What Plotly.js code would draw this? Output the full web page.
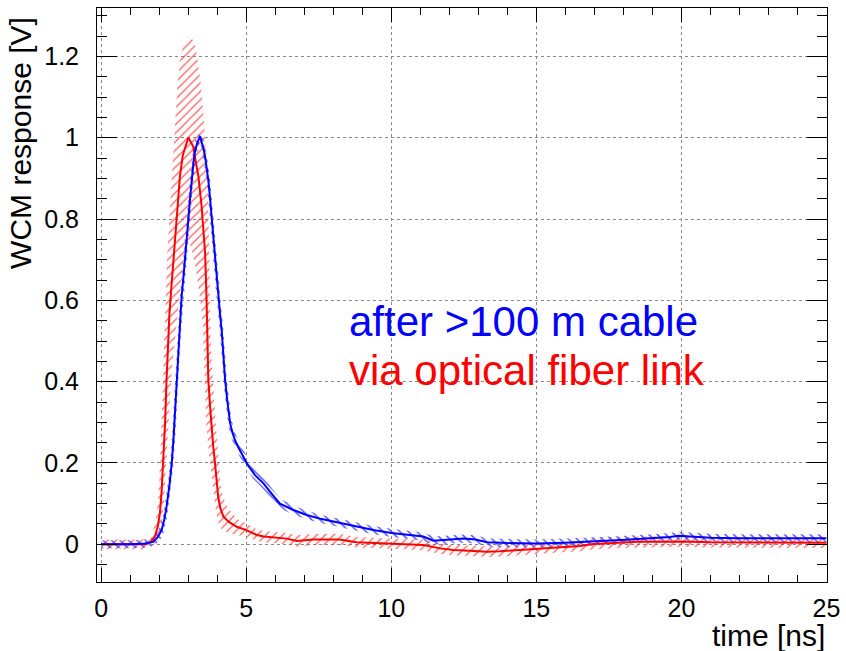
<!DOCTYPE html>
<html>
<head>
<meta charset="utf-8">
<script src="https://cdn.plot.ly/plotly-3.0.1.min.js"></script>
<style>html,body{margin:0;padding:0;background:#fff;}#chart{width:846px;height:651px;}</style>
</head>
<body>
<div id="chart"></div>
<script>
// ---- data ----
const redTime = [0, 0.5, 1.0, 1.5, 1.7, 1.85, 1.95, 2.02, 2.08, 2.14, 2.2, 2.25, 2.3, 2.35, 2.43, 2.5, 2.6, 2.71, 2.81, 2.9, 3.0, 3.08, 3.17, 3.26, 3.35, 3.46, 3.52, 3.58, 3.63, 3.66, 3.69, 3.75, 3.81, 3.86, 3.92, 3.97, 4.03, 4.1, 4.21, 4.4, 4.67, 5.0, 5.36, 5.6, 6.0, 6.4, 6.74, 7.0, 7.3, 7.66, 8.2, 8.8, 9.4, 9.96, 10.5, 11.1, 11.68, 12.14, 12.7, 13.29, 13.75, 14.44, 15.0, 15.59, 16.5, 16.97, 17.9, 18.5, 19.5, 20.07, 21, 22, 23, 24, 25];
const redResp = [0, 0, 0, 0, 0.005, 0.019, 0.045, 0.076, 0.13, 0.2, 0.3, 0.404, 0.49, 0.568, 0.645, 0.71, 0.80, 0.904, 0.957, 0.98, 1.0, 0.99, 0.978, 0.94, 0.904, 0.83, 0.78, 0.716, 0.6, 0.5, 0.404, 0.34, 0.28, 0.24, 0.2, 0.155, 0.117, 0.09, 0.068, 0.055, 0.043, 0.035, 0.023, 0.019, 0.016, 0.014, 0.008, 0.01, 0.012, 0.012, 0.012, 0.005, 0.003, 0.002, 0.001, -0.002, -0.01, -0.014, -0.016, -0.018, -0.017, -0.014, -0.012, -0.008, -0.004, 0.001, 0.004, 0.006, 0.006, 0.007, 0.005, 0.005, 0.005, 0.004, 0.004];
const redErr = [0.012, 0.012, 0.012, 0.012, 0.012, 0.012, 0.015, 0.02, 0.03, 0.05, 0.075, 0.10, 0.12, 0.14, 0.16, 0.18, 0.20, 0.23, 0.24, 0.245, 0.25, 0.25, 0.245, 0.235, 0.23, 0.21, 0.195, 0.18, 0.15, 0.125, 0.10, 0.085, 0.07, 0.06, 0.05, 0.04, 0.035, 0.032, 0.03, 0.025, 0.02, 0.016, 0.014, 0.014, 0.014, 0.014, 0.014, 0.014, 0.014, 0.014, 0.014, 0.013, 0.013, 0.013, 0.013, 0.013, 0.013, 0.013, 0.013, 0.013, 0.013, 0.013, 0.013, 0.013, 0.013, 0.013, 0.013, 0.013, 0.013, 0.013, 0.013, 0.013, 0.013, 0.013, 0.013];
const redTimeErr = 0.08;

const blueTime = [0, 0.5, 1.0, 1.5, 1.79, 1.95, 2.08, 2.17, 2.25, 2.35, 2.43, 2.49, 2.54, 2.6, 2.66, 2.72, 2.77, 2.83, 2.89, 2.95, 3.0, 3.06, 3.12, 3.18, 3.23, 3.3, 3.4, 3.5, 3.58, 3.69, 3.75, 3.81, 3.87, 3.92, 3.97, 4.03, 4.09, 4.15, 4.21, 4.27, 4.35, 4.44, 4.52, 4.61, 4.75, 4.9, 5.05, 5.3, 5.59, 5.9, 6.16, 6.6, 7.08, 7.6, 8.23, 8.8, 9.38, 10.0, 10.53, 11.1, 11.45, 12.0, 12.5, 12.9, 13.3, 14.0, 15.0, 16.0, 16.74, 17.77, 18.5, 19.0, 19.6, 19.9, 20.3, 21, 22, 23, 24, 25];
const blueResp = [0, 0, 0, 0.002, 0.006, 0.018, 0.035, 0.06, 0.092, 0.145, 0.2, 0.26, 0.322, 0.4, 0.486, 0.55, 0.61, 0.655, 0.70, 0.75, 0.798, 0.85, 0.904, 0.94, 0.966, 0.985, 1.003, 0.98, 0.953, 0.896, 0.85, 0.798, 0.75, 0.70, 0.655, 0.61, 0.57, 0.527, 0.465, 0.404, 0.35, 0.298, 0.275, 0.256, 0.235, 0.215, 0.195, 0.17, 0.15, 0.122, 0.10, 0.085, 0.072, 0.062, 0.052, 0.043, 0.035, 0.028, 0.023, 0.019, 0.009, 0.012, 0.014, 0.012, 0.005, 0.003, 0.002, 0.004, 0.006, 0.01, 0.013, 0.015, 0.018, 0.021, 0.019, 0.016, 0.015, 0.015, 0.015, 0.015];
const blueErrValue = 0.01;
const blueTimeErr = 0.05;

const labelBlue = "after >100 m cable";
const labelRed = "via optical fiber link";
const xTitle = "time [ns]";
const yTitle = "WCM response [V]";

// ---- error band polygon (time + amplitude errors) ----
function band(xs, ys, eys, ex) {
  const up = [], lo = [];
  for (let i = 0; i < xs.length; i++) {
    const a = ys[Math.max(0, i - 1)], b = ys[Math.min(ys.length - 1, i + 1)];
    const d = b - a;
    const s = Math.abs(d) > 0.02 ? Math.sign(d) : 0;
    const ey = Array.isArray(eys) ? eys[i] : eys;
    up.push([xs[i] - s * ex, ys[i] + ey]);
    lo.push([xs[i] + s * ex, ys[i] - ey]);
  }
  const pts = up.concat(lo.reverse());
  pts.push(up[0]);
  return {x: pts.map(p => p[0]), y: pts.map(p => p[1])};
}

const rb = band(redTime, redResp, redErr, redTimeErr);
const bb = band(blueTime, blueResp, blueErrValue, blueTimeErr);

const traces = [
  {x: rb.x, y: rb.y, type: 'scatter', mode: 'lines', fill: 'toself', line: {width: 0, color: 'rgba(0,0,0,0)'},
   fillcolor: 'rgba(0,0,0,0)', fillpattern: {shape: '/', fgcolor: 'rgba(255,50,50,0.8)', bgcolor: 'rgba(0,0,0,0)', size: 6, solidity: 0.2},
   hoverinfo: 'skip', showlegend: false},
  {x: bb.x, y: bb.y, type: 'scatter', mode: 'lines', fill: 'toself', line: {width: 0, color: 'rgba(0,0,0,0)'},
   fillcolor: 'rgba(0,0,0,0)', fillpattern: {shape: '\\', fgcolor: 'rgba(50,50,255,0.85)', bgcolor: 'rgba(0,0,0,0)', size: 6, solidity: 0.25},
   hoverinfo: 'skip', showlegend: false},
  {x: redTime, y: redResp, type: 'scatter', mode: 'lines', line: {color: '#ff0000', width: 2}, name: labelRed, showlegend: false},
  {x: blueTime, y: blueResp, type: 'scatter', mode: 'lines', line: {color: '#0000ff', width: 2}, name: labelBlue, showlegend: false}
];

const fam = 'Liberation Sans, Arial, sans-serif';
const tickFont = {family: fam, size: 25, color: '#000'};
const layout = {
  width: 846, height: 651,
  margin: {l: 97, r: 19, t: 8, b: 69, pad: 0},
  paper_bgcolor: '#fff', plot_bgcolor: '#fff',
  showlegend: false,
  xaxis: {
    range: [-0.148, 25.02], dtick: 5, tick0: 0,
    ticks: 'inside', ticklen: 14, tickcolor: '#000', tickwidth: 1,
    minor: {dtick: 1, ticks: 'inside', ticklen: 7, tickcolor: '#000', tickwidth: 1, showgrid: false},
    showline: true, linecolor: '#000', linewidth: 1, mirror: 'ticks',
    showgrid: true, gridcolor: '#888', griddash: 'dot', gridwidth: 1,
    zeroline: false, tickfont: tickFont, ticklabelstandoff: 4
  },
  yaxis: {
    range: [-0.0927, 1.319], dtick: 0.2, tick0: 0,
    ticks: 'inside', ticklen: 20, tickcolor: '#000', tickwidth: 1,
    minor: {dtick: 0.05, ticks: 'inside', ticklen: 10, tickcolor: '#000', tickwidth: 1, showgrid: false},
    showline: true, linecolor: '#000', linewidth: 1, mirror: 'ticks',
    showgrid: true, gridcolor: '#888', griddash: 'dot', gridwidth: 1,
    zeroline: false, tickfont: tickFont, ticklabelstandoff: 12
  },
  annotations: [
    {text: labelBlue, x: 8.48, y: 0.547, xref: 'x', yref: 'y', xanchor: 'left', yanchor: 'middle', showarrow: false,
     font: {family: fam, size: 42, color: '#0000ff'}},
    {text: labelRed, x: 8.48, y: 0.428, xref: 'x', yref: 'y', xanchor: 'left', yanchor: 'middle', showarrow: false,
     font: {family: fam, size: 42, color: '#ff0000'}},
    {text: xTitle, x: 1, y: -0.094, xref: 'paper', yref: 'paper', xanchor: 'right', yanchor: 'middle', showarrow: false,
     font: {family: fam, size: 30, color: '#000'}},
    {text: yTitle, x: 0, y: 0.765, xref: 'paper', yref: 'paper', xanchor: 'center', yanchor: 'middle', xshift: -76, showarrow: false,
     textangle: -90, font: {family: fam, size: 30, color: '#000'}}
  ]
};

Plotly.newPlot('chart', traces, layout, {staticPlot: true, displayModeBar: false});
</script>
</body>
</html>
